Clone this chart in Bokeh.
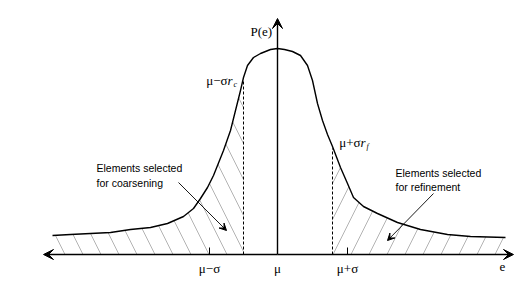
from bokeh.plotting import figure
from bokeh.models import Range1d, Arrow, VeeHead, Label
from bokeh.embed import file_html
from bokeh.resources import INLINE

# Diagram data: e position and P(e) height above the e-axis
e_vals = [52, 70, 90, 110, 130, 150, 167, 183, 193, 200, 207, 213, 223, 230, 235, 240, 243, 247,
          253, 260, 270, 277, 284, 292, 300, 307, 312, 317, 322, 327, 332, 340, 347, 353, 363,
          377, 397, 420, 447, 470, 505]
p_vals = [19, 20, 21, 22, 25, 27, 31, 38, 46, 56, 67, 79, 104, 124, 144, 164, 177, 189,
          197, 201, 205, 206, 205, 203, 199, 189, 174, 151, 134, 120, 108, 87, 71, 57, 48,
          41, 32, 25, 20, 18, 17]

mu = 277
mu_minus_sigma = 209
mu_plus_sigma = 347
e_rc = 243   # mu - sigma r_c
e_rf = 332   # mu + sigma r_f
axis_left, axis_right, axis_top = 43, 513, 236

tick_labels = ["\u03bc\u2212\u03c3", "\u03bc", "\u03bc+\u03c3"]
tick_pos = [mu_minus_sigma, mu, mu_plus_sigma]

SERIF = "Liberation Serif"
SANS = "Liberation Sans"

p = figure(width=523, height=282, output_backend="svg", toolbar_location=None,
           x_range=Range1d(0, 523), y_range=Range1d(-28, 254),
           x_axis_type=None, y_axis_type=None, min_border=0)
p.outline_line_color = None
p.grid.visible = False
p.background_fill_color = "white"

# hatched regions
left = [(e, v) for e, v in zip(e_vals, p_vals) if e <= e_rc]
right = [(e, v) for e, v in zip(e_vals, p_vals) if e >= e_rf]
p.varea(x=[a for a, _ in left], y1=0, y2=[b for _, b in left], fill_color=None,
        hatch_pattern="\\", hatch_color="#a0a0a0", hatch_scale=36, hatch_weight=0.8)
p.varea(x=[a for a, _ in right], y1=0, y2=[b for _, b in right], fill_color=None,
        hatch_pattern="/", hatch_color="#a0a0a0", hatch_scale=36, hatch_weight=0.8)

# curve
p.line(e_vals, p_vals, line_color="black", line_width=1.4, line_join="round")

# dashed lines
heights = dict(zip(e_vals, p_vals))
p.segment(x0=[e_rc, e_rf], y0=[0, 0], x1=[e_rc, e_rf],
          y1=[heights[e_rc] - 3, heights[e_rf] - 2],
          line_color="black", line_width=1, line_dash="3 2")

# ticks
p.segment(x0=[mu_minus_sigma, mu_plus_sigma], y0=[0, 0], x1=[mu_minus_sigma, mu_plus_sigma],
          y1=[7, 7], line_color="black", line_width=1)

# axes with arrows
for xe, ye in [(axis_left, 0), (axis_right, 0), (mu, axis_top)]:
    p.add_layout(Arrow(x_start=mu, y_start=0, x_end=xe, y_end=ye, line_width=1.4,
                       end=VeeHead(size=10, fill_color="black", line_color="black")))

# annotation arrows
p.add_layout(Arrow(x_start=178, y_start=72, x_end=226, y_end=24, line_width=0.9,
                   end=VeeHead(size=7, fill_color="black", line_color="black")))
p.add_layout(Arrow(x_start=433, y_start=61, x_end=387, y_end=14, line_width=0.9,
                   end=VeeHead(size=7, fill_color="black", line_color="black")))

def lab(x, y, t, font=SERIF, size="13px", align="center", style="normal", base="middle"):
    p.add_layout(Label(x=x, y=y, text=t, text_font=font, text_font_size=size,
                       text_align=align, text_font_style=style, text_baseline=base,
                       text_color="black"))

for pos, t in zip(tick_pos, tick_labels):
    lab(pos, -14, t)
lab(502, -12, "e")
lab(250, 223, "P(e)", align="left")

# mu - sigma r_c
lab(227, 174, "\u03bc\u2212\u03c3", align="right")
lab(227, 174, "r", align="left", style="italic")
lab(233, 170, "c", align="left", style="italic", size="8px")
# mu + sigma r_f
lab(360, 112, "\u03bc+\u03c3", align="right")
lab(360, 112, "r", align="left", style="italic")
lab(366, 108, "f", align="left", style="italic", size="8px")

lab(96, 87, "Elements selected", font=SANS, size="10.5px", align="left")
lab(96, 72, "for coarsening", font=SANS, size="10.5px", align="left")
lab(395, 82, "Elements selected", font=SANS, size="10.5px", align="left")
lab(395, 68, "for refinement", font=SANS, size="10.5px", align="left")

open("out.html", "w").write(file_html(p, INLINE))
